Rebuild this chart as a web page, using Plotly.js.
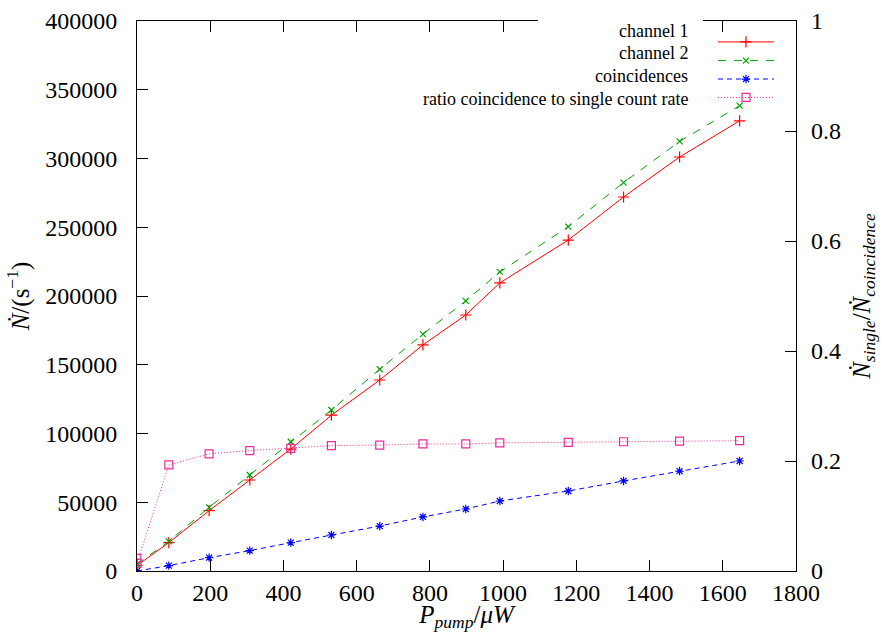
<!DOCTYPE html>
<html>
<head>
<meta charset="utf-8">
<script src="https://cdn.plot.ly/plotly-3.0.1.min.js"></script>
<style>
html,body{margin:0;padding:0;background:#fff;}
#chart text { font-family: 'Liberation Serif', 'DejaVu Serif', serif !important; }
</style>
</head>
<body>
<div id="chart" style="width:886px;height:632px;"></div>
<script>
// pump power (µW)
const pump = [0, 87, 197, 308, 420, 531, 663, 781, 898, 991, 1178, 1329, 1482, 1646];
// count rates (1/s)
const channel1 = [4000, 20600, 43900, 66200, 88700, 113300, 138900, 164400, 186200, 209500, 240700, 272000, 301100, 327400];
const channel2 = [5000, 21600, 46300, 69800, 94000, 117100, 146700, 172300, 196400, 217500, 250400, 282500, 312400, 338400];
const coincidences = [0, 3900, 9700, 14800, 20600, 26200, 32700, 39300, 45100, 50900, 58200, 65500, 72700, 80000];
// ratio (right axis)
const pumpRatio = [0, 0, 87, 197, 308, 420, 531, 663, 781, 898, 991, 1178, 1329, 1482, 1646];
const ratio = [0.023, 0.014, 0.193, 0.213, 0.219, 0.223, 0.228, 0.229, 0.231, 0.231, 0.233, 0.234, 0.235, 0.236, 0.237];

const seriesNames = ["channel 1", "channel 2", "coincidences", "ratio coincidence to single count rate"];
const colors = ["#ff0000", "#00a000", "#0000ff", "#ee2a9c"];
const dashes = ["solid", "8px,8px", "5px,4px", "1px,2px"];
const symbols = ["cross-thin-open", "x-thin-open", "asterisk-open", "square-open"];
const sizes = [8, 6, 7, 8];

const FONT = "Liberation Serif";

function mk(x, y, i, yaxis) {
  return {
    x: x, y: y, type: "scatter", mode: "lines+markers", name: seriesNames[i],
    yaxis: yaxis, showlegend: false,
    line: {color: colors[i], width: 1, dash: dashes[i]},
    marker: {symbol: symbols[i], size: sizes[i], color: colors[i], line: {color: colors[i], width: 1.2}}
  };
}

const traces = [
  mk(pump, channel1, 0, "y"),
  mk(pump, channel2, 1, "y"),
  mk(pump, coincidences, 2, "y"),
  mk(pumpRatio, ratio, 3, "y2")
];

// custom gnuplot-style key: text right-aligned, sample to the right
const keyTextX = 0.839;
const keyTextY = [0.982, 0.941, 0.900, 0.858];
const keySampleY = [0.962, 0.928, 0.8945, 0.861];
const keyX0 = 0.8816, keyX1 = 0.9666, keyXm = 0.9241;

const annotations = seriesNames.map((n, i) => ({
  xref: "paper", yref: "paper", x: keyTextX, y: keyTextY[i],
  xanchor: "right", yanchor: "middle", showarrow: false, text: n,
  font: {family: FONT, size: 18, color: "#000"}
}));

const shapes = [{
  type: "rect", xref: "paper", yref: "paper", x0: 0.6085, x1: 0.859, y0: 0.978, y1: 1.006,
  fillcolor: "#fff", line: {width: 0}, layer: "above"
}];
seriesNames.forEach((n, i) => {
  shapes.push({type: "line", xref: "paper", yref: "paper", x0: keyX0, x1: keyX1,
    y0: keySampleY[i], y1: keySampleY[i], line: {color: colors[i], width: 1, dash: dashes[i]}, layer: "above"});
});
seriesNames.forEach((n, i) => {
  traces.push({x: [keyXm], y: [keySampleY[i]], xaxis: "x2", yaxis: "y3", type: "scatter", mode: "markers",
    showlegend: false, hoverinfo: "skip",
    marker: {symbol: symbols[i], size: sizes[i], color: colors[i], line: {color: colors[i], width: 1.2}}});
});

const tickFont = {family: FONT, size: 24, color: "#000"};
const layout = {
  width: 886, height: 632,
  margin: {l: 137, r: 90, t: 21, b: 61},
  paper_bgcolor: "#fff", plot_bgcolor: "#fff",
  showlegend: false,
  font: {family: FONT, color: "#000"},
  xaxis: {
    range: [0, 1800], dtick: 200, tick0: 0, showgrid: false, zeroline: false,
    ticks: "inside", ticklen: 11, tickcolor: "#000", tickwidth: 1,
    showline: true, linecolor: "#000", linewidth: 1, mirror: "ticks",
    tickfont: tickFont, ticklabelstandoff: 0,
    title: {text: "<i>P<sub>pump</sub></i>/<i>μW</i>", font: {family: FONT, size: 25}, standoff: 6}
  },
  yaxis: {
    range: [0, 400000], dtick: 50000, tick0: 0, showgrid: false, zeroline: false,
    ticks: "inside", ticklen: 11, tickcolor: "#000", tickwidth: 1,
    showline: true, linecolor: "#000", linewidth: 1, mirror: true,
    tickfont: tickFont, ticklabelstandoff: 14, tickformat: "d",
    title: {text: "<i>Ṅ</i>/(s<sup>−1</sup>)", font: {family: FONT, size: 25}, standoff: 8}
  },
  yaxis2: {
    overlaying: "y", side: "right", range: [0, 1], dtick: 0.2, tick0: 0,
    showgrid: false, zeroline: false, showline: false,
    ticks: "inside", ticklen: 11, tickcolor: "#000", tickwidth: 1,
    tickfont: tickFont, ticklabelstandoff: 14,
    title: {text: "<i>Ṅ<sub>single</sub></i>/<i>Ṅ<sub>coincidence</sub></i>", font: {family: FONT, size: 25}, standoff: 12}
  },
  xaxis2: {overlaying: "x", range: [0, 1], visible: false, fixedrange: true},
  yaxis3: {overlaying: "y", range: [0, 1], visible: false, fixedrange: true},
  annotations: annotations,
  shapes: shapes
};

Plotly.newPlot("chart", traces, layout, {staticPlot: true, displayModeBar: false});
</script>
</body>
</html>
